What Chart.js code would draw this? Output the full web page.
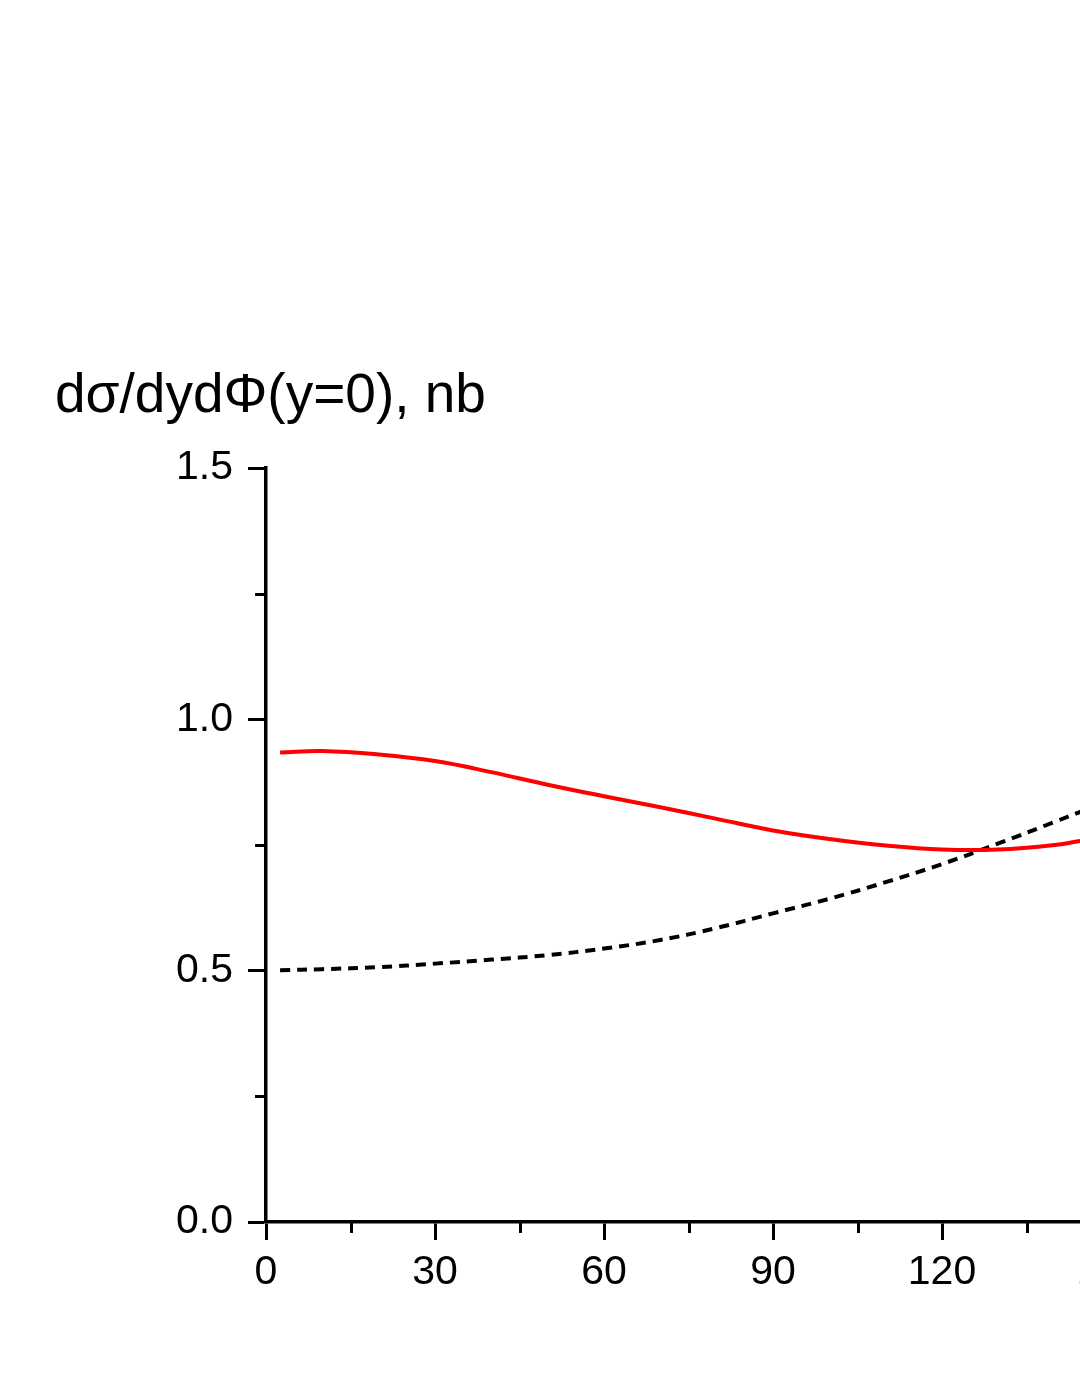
<!DOCTYPE html>
<html>
<head>
<meta charset="utf-8">
<script src="https://cdn.jsdelivr.net/npm/chart.js@4/dist/chart.umd.min.js"></script>
<style>
  html, body { margin: 0; padding: 0; background: #fff; overflow: hidden; }
  #wrap { width: 1400px; height: 1397px; }
</style>
</head>
<body>
<div id="wrap"><canvas id="crossChart" width="1400" height="1397"></canvas></div>
<script>
// azimuthal angle Phi (deg)
const phi = [2.5, 10, 20, 30, 40, 50, 60, 70, 80, 90, 100, 110, 120, 130, 140, 145];
// red solid curve
const solidCurve = [0.934, 0.937, 0.930, 0.917, 0.895, 0.870, 0.847, 0.825, 0.802, 0.779, 0.762, 0.749, 0.741, 0.741, 0.750, 0.759];
// black dotted curve
const dottedCurve = [0.501, 0.503, 0.507, 0.514, 0.522, 0.531, 0.544, 0.561, 0.585, 0.614, 0.643, 0.676, 0.712, 0.753, 0.796, 0.818];

const xTicks = [0, 30, 60, 90, 120, 150, 180];
const yTicks = [0.0, 0.5, 1.0, 1.5];
const yTitle = 'd\u03C3/dyd\u03A6(y=0), nb';

const toPoints = (xs, ys) => xs.map((x, i) => ({ x: x, y: ys[i] }));

// title text + minor ticks
const extras = {
  id: 'extras',
  afterDraw(chart) {
    const ctx = chart.ctx;
    const xs = chart.scales.x, ys = chart.scales.y;
    ctx.save();
    ctx.strokeStyle = '#000';
    ctx.lineWidth = 3;
    // minor x ticks
    for (let i = 0; i < xTicks.length - 1; i++) {
      const px = Math.round(xs.getPixelForValue((xTicks[i] + xTicks[i + 1]) / 2)) + 0.5;
      ctx.beginPath();
      ctx.moveTo(px, ys.bottom);
      ctx.lineTo(px, ys.bottom + 11);
      ctx.stroke();
    }
    // minor y ticks
    for (let i = 0; i < yTicks.length - 1; i++) {
      const py = Math.round(ys.getPixelForValue((yTicks[i] + yTicks[i + 1]) / 2)) + 0.5;
      ctx.beginPath();
      ctx.moveTo(xs.left, py);
      ctx.lineTo(xs.left - 11, py);
      ctx.stroke();
    }
    ctx.fillStyle = '#000';
    ctx.font = '55px "Liberation Sans", Arial, sans-serif';
    ctx.textBaseline = 'alphabetic';
    ctx.textAlign = 'left';
    ctx.fillText(yTitle, 55, 412);
    ctx.restore();
  }
};

const ctx = document.getElementById('crossChart').getContext('2d');

const crossChart = new Chart(ctx, {
  type: 'line',
  data: {
    datasets: [{
      label: 'solid',
      data: toPoints(phi, solidCurve),
      borderColor: '#ff0000',
      borderWidth: 4,
      pointRadius: 0,
      tension: 0.4,
      fill: false
    }, {
      label: 'dotted',
      data: toPoints(phi, dottedCurve),
      borderColor: '#000000',
      borderWidth: 4,
      borderDash: [10, 7],
      pointRadius: 0,
      tension: 0.4,
      fill: false
    }]
  },
  options: {
    responsive: false,
    animation: false,
    layout: {
      padding: { left: 0, top: 468, right: 120, bottom: 0 }
    },
    plugins: {
      legend: { display: false },
      tooltip: { enabled: false }
    },
    scales: {
      x: {
        type: 'linear',
        min: 0,
        max: 180,
        afterFit: (scale) => { scale.height = 175; },
        afterBuildTicks: (scale) => { scale.ticks = xTicks.map(v => ({ value: v })); },
        border: { display: true, color: '#000', width: 3.5 },
        grid: { drawOnChartArea: false, drawTicks: true, tickLength: 18, tickWidth: 3, tickColor: '#000' },
        ticks: {
          color: '#000',
          padding: 8,
          maxRotation: 0,
          autoSkip: false,
          font: { family: '"Liberation Sans", Arial, sans-serif', size: 41 },
          callback: (v) => String(v)
        }
      },
      y: {
        min: 0,
        max: 1.5,
        afterFit: (scale) => { scale.width = 266; },
        afterBuildTicks: (scale) => { scale.ticks = yTicks.map(v => ({ value: v })); },
        border: { display: true, color: '#000', width: 3.5 },
        grid: { drawOnChartArea: false, drawTicks: true, tickLength: 18, tickWidth: 3, tickColor: '#000' },
        ticks: {
          color: '#000',
          padding: 15,
          font: { family: '"Liberation Sans", Arial, sans-serif', size: 41 },
          callback: (v) => Number(v).toFixed(1)
        }
      }
    }
  },
  plugins: [extras]
});
</script>
</body>
</html>
